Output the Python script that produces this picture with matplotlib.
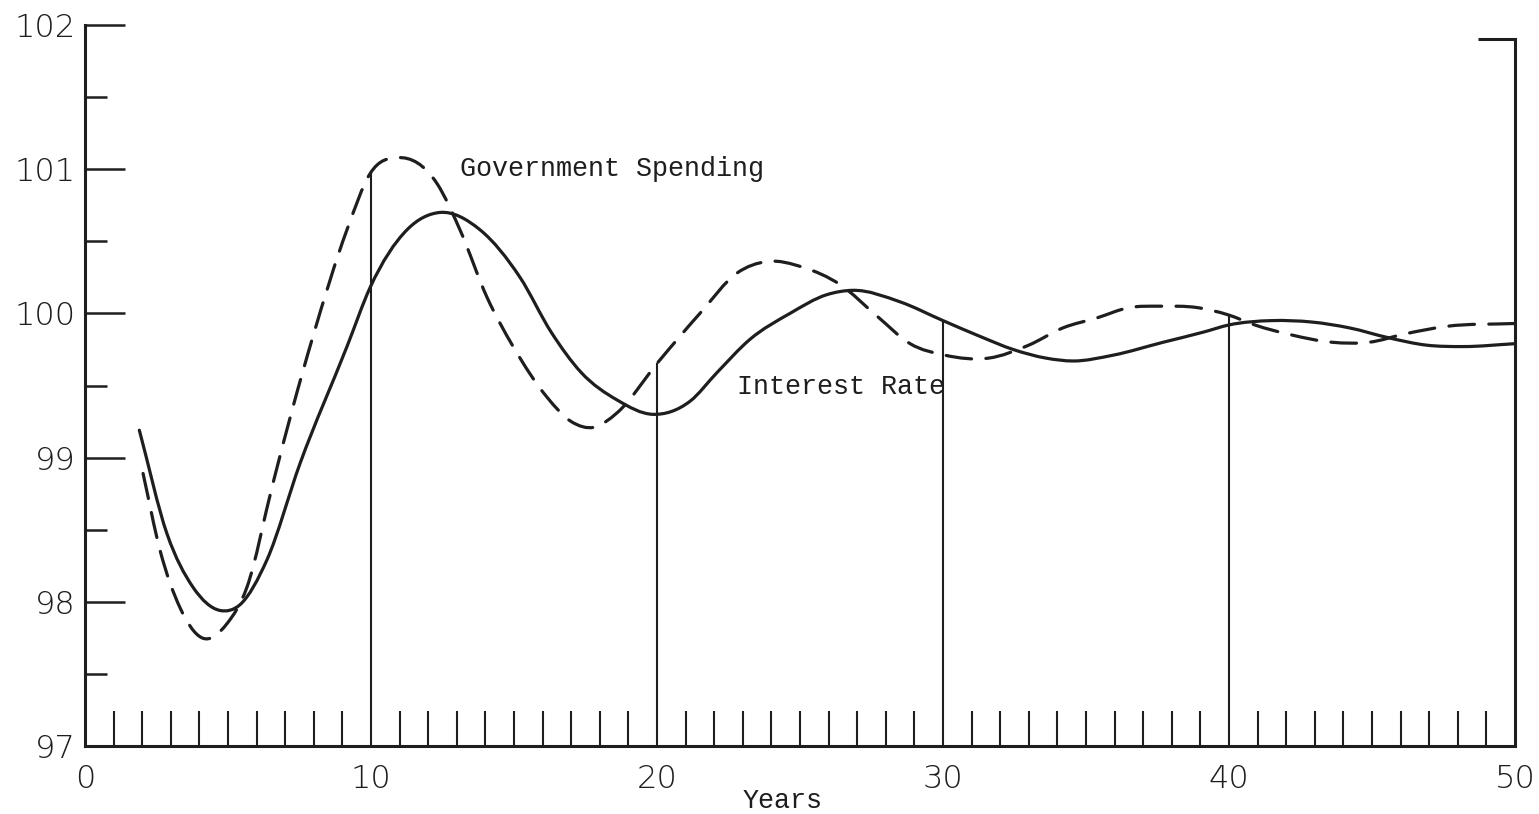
import numpy as np
import matplotlib
matplotlib.use("Agg")
import matplotlib.pyplot as plt
from matplotlib.path import Path
from matplotlib.patches import PathPatch

# ---- data ----
rate_years = [1.9, 2.87, 3.78, 4.72, 5.42, 6.36, 7.52, 9.16, 9.97, 11.26, 12.41,
              13.81, 15.21, 16.3, 17.35, 18.6, 19.86, 21.15, 22.1, 23.25, 24.65, 25.94,
              26.85, 28.5, 30.0, 31.3, 32.45, 33.6, 34.55, 35.94, 37.7, 39.1, 40.0,
              41.5, 42.9, 44.2, 45.6, 46.9, 48.2, 50.0]
rate_vals = [99.19, 98.47, 98.10, 97.94, 97.98, 98.29, 98.96, 99.77, 100.18,
             100.58, 100.70, 100.58, 100.25, 99.87, 99.59, 99.40, 99.30, 99.39, 99.59,
             99.82, 100.00, 100.13, 100.16, 100.08, 99.95, 99.84, 99.75, 99.69, 99.67,
             99.71, 99.80, 99.87, 99.92, 99.95, 99.94, 99.90, 99.83, 99.78, 99.77, 99.79]

gov_years = [2.03, 2.62, 3.32, 4.09, 4.97, 5.66, 6.57, 7.27, 7.97, 9.16, 9.97, 10.94,
             12.31, 13.11, 14.06, 14.97, 16.15, 17.0, 17.8, 18.6, 20.03, 21.5, 22.8,
             23.85, 25.1, 26.4, 27.7, 28.85, 30.07, 31.6, 33.0, 34.2, 35.4, 36.5, 37.6,
             38.9, 39.97, 40.9, 42.2, 43.6, 44.9, 46.2, 47.6, 50.0]
gov_vals = [98.89, 98.36, 97.96, 97.75, 97.85, 98.10, 98.82, 99.35, 99.84, 100.58,
            100.97, 101.08, 100.90, 100.58, 100.11, 99.77, 99.42, 99.25, 99.21, 99.31,
            99.66, 100.00, 100.28, 100.36, 100.32, 100.20, 99.98, 99.79, 99.71, 99.69,
            99.78, 99.90, 99.97, 100.04, 100.05, 100.04, 99.99, 99.92, 99.85, 99.80,
            99.80, 99.86, 99.91, 99.93]

x_major = [0, 10, 20, 30, 40, 50]
x_labels = ["0", "10", "20", "30", "40", "50"]
y_major = [97, 98, 99, 100, 101, 102]
y_labels = ["97", "98", "99", "100", "101", "102"]
y_minor = [97.5, 98.5, 99.5, 100.5, 101.5]
x_minor = [y for y in range(1, 50) if y % 10 != 0]
guide_years = [10, 20, 30, 40]
right_top = 101.9

INK = "#1e1e1e"
TYPE = "Liberation Mono"
SANS = "DejaVu Sans"


def smooth_path(xs, ys):
    """Smooth (Hermite) curve through the read points, as cubic Bezier segments."""
    x = np.asarray(xs, float)
    y = np.asarray(ys, float)
    n = len(x)
    m = np.empty(n)
    m[0] = (y[1] - y[0]) / (x[1] - x[0])
    m[-1] = (y[-1] - y[-2]) / (x[-1] - x[-2])
    for i in range(1, n - 1):
        d0 = (y[i] - y[i - 1]) / (x[i] - x[i - 1])
        d1 = (y[i + 1] - y[i]) / (x[i + 1] - x[i])
        h0 = x[i] - x[i - 1]
        h1 = x[i + 1] - x[i]
        m[i] = (d0 * h1 + d1 * h0) / (h0 + h1)
    verts = [(x[0], y[0])]
    codes = [Path.MOVETO]
    for i in range(n - 1):
        h = (x[i + 1] - x[i]) / 3.0
        verts += [(x[i] + h, y[i] + m[i] * h),
                  (x[i + 1] - h, y[i + 1] - m[i + 1] * h),
                  (x[i + 1], y[i + 1])]
        codes += [Path.CURVE4] * 3
    return Path(verts, codes)


fig = plt.figure(figsize=(15.39, 8.14), dpi=100)
ax = fig.add_axes([85 / 1539, 1 - 746 / 814, (1515 - 85) / 1539, (746 - 25) / 814])
ax.set_xlim(0, 50)
ax.set_ylim(97, 102)

# curves
ax.add_patch(PathPatch(smooth_path(rate_years, rate_vals), fill=False,
                       edgecolor=INK, lw=2.3, capstyle="round", joinstyle="round"))
ax.add_patch(PathPatch(smooth_path(gov_years, gov_vals), fill=False,
                       edgecolor=INK, lw=2.3, linestyle=(0, (8, 4.5)),
                       capstyle="round"))

# vertical guide lines up to the upper curve
for g in guide_years:
    top = max(np.interp(g, rate_years, rate_vals), np.interp(g, gov_years, gov_vals))
    ax.vlines(g, 97, top, color=INK, lw=1.5)

# spines
for s in ["left", "bottom", "right"]:
    ax.spines[s].set_color(INK)
    ax.spines[s].set_linewidth(2.2)
ax.spines["top"].set_visible(False)
ax.spines["right"].set_bounds(97, right_top)
ax.hlines(right_top, 48.7, 50, color=INK, lw=2.2, clip_on=False)

# ticks
ax.set_xticks(x_major)
ax.set_xticklabels(x_labels)
ax.set_xticks(x_minor, minor=True)
ax.set_yticks(y_major)
ax.set_yticklabels(y_labels)
ax.set_yticks(y_minor, minor=True)
ax.tick_params(axis="x", which="major", length=0, pad=13, labelsize=23,
               labelcolor=INK)
ax.tick_params(axis="x", which="minor", direction="in", length=25, width=1.5,
               color=INK)
ax.tick_params(axis="y", which="major", direction="in", length=29, width=1.8,
               color=INK, pad=7, labelsize=23, labelcolor=INK)
ax.tick_params(axis="y", which="minor", direction="in", length=16, width=1.8,
               color=INK)
ax.tick_params(axis="y", right=False, which="both")
for lab in ax.get_xticklabels() + ax.get_yticklabels():
    lab.set_family(SANS)
    lab.set_fontweight("light")

# text labels
ax.text(13.1, 101.0, "Government Spending", family=TYPE, fontsize=19.3,
        color=INK, va="center", ha="left")
ax.text(22.8, 99.49, "Interest Rate", family=TYPE, fontsize=19.3,
        color=INK, va="center", ha="left")
ax.text(23.0, 96.62, "Years", family=TYPE, fontsize=19.3, color=INK,
        va="center", ha="left", clip_on=False)

fig.savefig("out.png", dpi=100, facecolor="white")
